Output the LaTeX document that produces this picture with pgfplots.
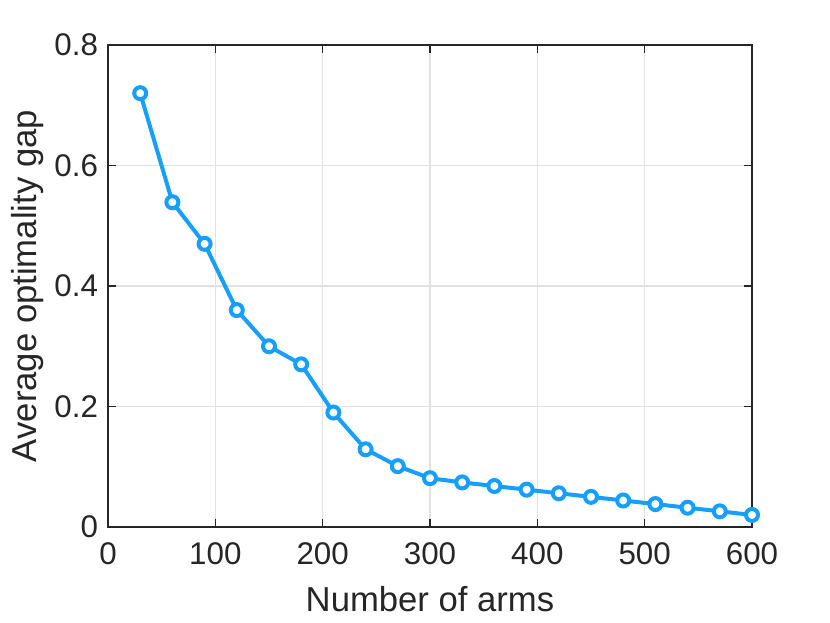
\documentclass[border=0pt]{standalone}
\usepackage{fontspec}
\setmainfont{Liberation Sans}
\usepackage{pgfplots}
\pgfplotsset{compat=1.18}
\definecolor{lineblue}{RGB}{22,159,255}
\definecolor{axgray}{RGB}{38,38,38}
\definecolor{gridgray}{RGB}{225,225,225}

\begin{document}
\begin{tikzpicture}[x=1pt,y=1pt]
\begin{axis}[
    scale only axis,
    width=483pt,
    height=361.5pt,
    xmin=0, xmax=600,
    ymin=0, ymax=0.8,
    xtick={0,100,...,600},
    ytick={0,0.2,0.4,0.6,0.8},
    yticklabels={0,0.2,0.4,0.6,0.8},
    xlabel={Number of arms},
    ylabel={Average optimality gap},
    tick align=inside,
    major tick length=6pt,
    grid=major,
    major grid style={gridgray, line width=0.8pt},
    axis line style={axgray, line width=0.9pt},
    every tick/.style={axgray, line width=0.9pt},
    tick label style={font=\fontsize{23.5}{25}\selectfont, text=axgray},
    label style={font=\fontsize{26}{28}\selectfont, text=axgray},
    /pgf/number format/assume math mode=true,
    xticklabel style={yshift=-8.5pt},
    yticklabel style={xshift=-4pt},
    xlabel style={yshift=-9pt},
    ylabel style={yshift=1pt},
]
\addplot[
    color=lineblue,
    line width=3pt,
    mark=*,
    mark size=4.5pt,
    mark options={fill=white, draw=lineblue, line width=3pt},
    ]
    coordinates {
    (30,0.720)(60,0.539)(90,0.470)(120,0.360)(150,0.300)(180,0.270)
    (210,0.190)(240,0.129)(270,0.101)(300,0.081)(330,0.074)(360,0.068)
    (390,0.062)(420,0.056)(450,0.050)(480,0.044)(510,0.038)(540,0.032)
    (570,0.026)(600,0.020)
    };
\end{axis}
\path[use as bounding box] (current axis.south west) ++(-81pt,-72pt) rectangle ([xshift=58.5pt,yshift=33.75pt]current axis.north east);
\end{tikzpicture}
\end{document}
